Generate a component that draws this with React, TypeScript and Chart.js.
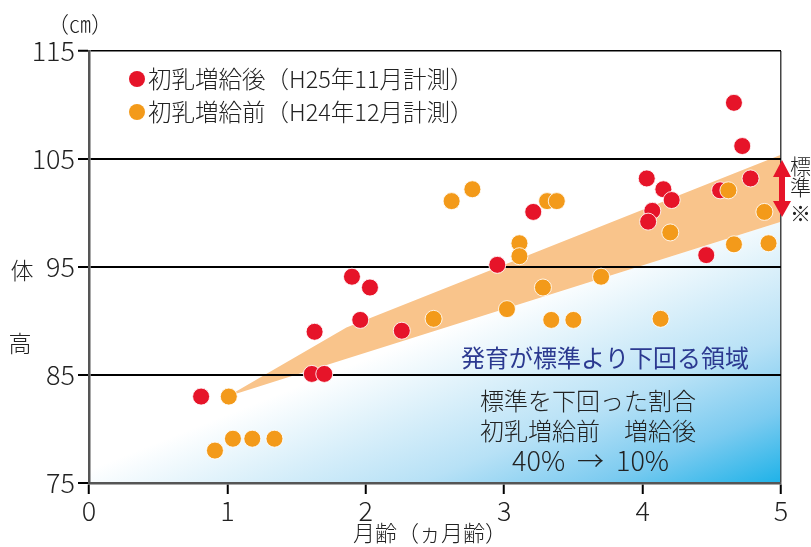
import React, { useEffect, useRef } from "react";
import { Chart, registerables } from "chart.js";

Chart.register(...registerables);

// 初乳増給後（H25年11月計測）
const afterAge = [0.81, 1.61, 1.70, 1.63, 1.96, 1.90, 2.03, 2.26, 2.95, 3.21, 4.03, 4.15, 4.21, 4.07, 4.04, 4.46, 4.56, 4.66, 4.72, 4.78];
const afterHeight = [83.0, 85.1, 85.1, 89.0, 90.1, 94.1, 93.1, 89.1, 95.2, 100.1, 103.2, 102.2, 101.2, 100.2, 99.2, 96.1, 102.1, 110.2, 106.2, 103.2];

// 初乳増給前（H24年12月計測）
const beforeAge = [1.01, 0.91, 1.04, 1.18, 1.34, 2.49, 2.62, 2.77, 3.11, 3.11, 3.02, 3.31, 3.38, 3.28, 3.34, 3.50, 3.70, 4.62, 4.88, 4.20, 4.66, 4.91, 4.13];
const beforeHeight = [83.0, 78.0, 79.1, 79.1, 79.1, 90.2, 101.1, 102.2, 97.2, 96.0, 91.1, 101.1, 101.1, 93.1, 90.1, 90.1, 94.1, 102.1, 100.1, 98.2, 97.1, 97.2, 90.2];

// 標準範囲（帯）
const bandAge = [1, 1.86, 5];
const bandUpper = [83, 89.4, 105.4];
const bandLower = [83, 86.5, 99.2];

// 発育が標準より下回る領域
const zoneAge = [0, 1, 5];
const zoneTop = [79, 83, 99.2];

const xTicks = [0, 1, 2, 3, 4, 5];
const yTicks = [75, 85, 95, 105, 115];

const legendLabels = ["初乳増給後（H25年11月計測）", "初乳増給前（H24年12月計測）"];
const xTitle = "月齢（ヵ月齢）";
const yTitleChars = ["体", "高"];
const unitLabel = "（㎝）";
const zoneLabel = "発育が標準より下回る領域";
const noteLines = ["標準を下回った割合", "初乳増給前　増給後"];
const ratioLine = "40%  →  10%";
const sideChars = ["標", "準", "※"];

const RED = "#E61429";
const ORANGE = "#F39A1A";
const FONT = '"Noto Sans CJK JP", "Noto Sans", sans-serif';
const W = "300";

const pts = (xs: number[], ys: number[]) => xs.map((x, i) => ({ x, y: ys[i] }));

const textPlugin = {
  id: "texts",
  afterDraw(chart: any) {
    const ctx = chart.ctx as CanvasRenderingContext2D;
    const area = chart.chartArea;
    ctx.save();
    ctx.textBaseline = "middle";

    // legend
    const rows = [79, 112];
    const cols = [RED, ORANGE];
    ctx.font = `${W} 23.5px ${FONT}`;
    rows.forEach((y, i) => {
      ctx.beginPath();
      ctx.arc(137, y, 8, 0, Math.PI * 2);
      ctx.fillStyle = cols[i];
      ctx.fill();
      ctx.fillStyle = "#222";
      ctx.textAlign = "left";
      ctx.fillText(legendLabels[i], 148, y);
    });

    // unit
    ctx.textAlign = "center";
    ctx.font = `${W} 22px ${FONT}`;
    ctx.fillStyle = "#222";
    ctx.fillText(unitLabel, 80, 24);

    // y title
    ctx.font = `${W} 23px ${FONT}`;
    ctx.fillText(yTitleChars[0], 22, 270);
    ctx.fillText(yTitleChars[1], 20, 343);

    // x title
    ctx.font = `${W} 22px ${FONT}`;
    ctx.fillText(xTitle, 430, 533);

    // zone texts
    ctx.font = `400 24px ${FONT}`;
    ctx.fillStyle = "#2B3990";
    ctx.fillText(zoneLabel, 605, 358);
    ctx.fillStyle = "#222";
    ctx.textAlign = "left";
    ctx.font = `${W} 24px ${FONT}`;
    ctx.fillText(noteLines[0], 480, 401);
    ctx.fillText(noteLines[1], 480, 431);
    ctx.font = `${W} 27px ${FONT}`;
    ctx.fillText(ratioLine, 512, 461);

    // side arrow
    const cx = area.right + 1;
    ctx.fillStyle = RED;
    ctx.beginPath();
    ctx.moveTo(cx, 160);
    ctx.lineTo(cx + 9, 177);
    ctx.lineTo(cx + 3, 177);
    ctx.lineTo(cx + 3, 201);
    ctx.lineTo(cx + 9, 201);
    ctx.lineTo(cx, 217);
    ctx.lineTo(cx - 9, 201);
    ctx.lineTo(cx - 3, 201);
    ctx.lineTo(cx - 3, 177);
    ctx.lineTo(cx - 9, 177);
    ctx.closePath();
    ctx.fill();

    // side text
    ctx.fillStyle = "#222";
    ctx.font = `${W} 21px ${FONT}`;
    ctx.textAlign = "left";
    ctx.fillText(sideChars[0], 790, 166);
    ctx.fillText(sideChars[1], 790, 187);
    ctx.fillText(sideChars[2], 790, 213);

    ctx.restore();
  },
};

export default function App() {
  const ref = useRef<HTMLCanvasElement | null>(null);

  useEffect(() => {
    if (!ref.current) return;
    const chart = new Chart(ref.current, {
      type: "scatter",
      data: {
        datasets: [
          {
            label: legendLabels[1],
            data: pts(beforeAge, beforeHeight),
            backgroundColor: ORANGE,
            borderColor: "rgba(255,255,255,0.85)",
            borderWidth: 1,
            pointRadius: 8.5,
            pointHoverRadius: 8.5,
          },
          {
            label: legendLabels[0],
            data: pts(afterAge, afterHeight),
            backgroundColor: RED,
            borderColor: "rgba(255,255,255,0.85)",
            borderWidth: 1,
            pointRadius: 8.5,
            pointHoverRadius: 8.5,
          },
          {
            label: "band",
            data: pts(bandAge, bandUpper),
            showLine: true,
            pointRadius: 0,
            borderWidth: 0,
            borderColor: "rgba(0,0,0,0)",
            backgroundColor: "#F9C48B",
            fill: { target: 3 },
          },
          {
            label: "bandLower",
            data: pts(bandAge, bandLower),
            showLine: true,
            pointRadius: 0,
            borderWidth: 0,
            borderColor: "rgba(0,0,0,0)",
            fill: false,
          },
          {
            label: "zone",
            data: pts(zoneAge, zoneTop),
            showLine: true,
            pointRadius: 0,
            borderWidth: 0,
            borderColor: "rgba(0,0,0,0)",
            fill: "start",
            backgroundColor: (c: any) => {
              const ch = c.chart;
              const a = ch.chartArea;
              if (!a) return "rgba(180,225,245,0.5)";
              const g = ch.ctx.createLinearGradient(a.right, a.bottom, a.right - 100, a.bottom - 250);
              g.addColorStop(0, "#1EB2E8");
              g.addColorStop(0.25, "#7CCBF0");
              g.addColorStop(0.5, "#B7E1F6");
              g.addColorStop(0.8, "#E2F3FB");
              g.addColorStop(1, "#FFFFFF");
              return g;
            },
          },
        ] as any,
      },
      options: {
        animation: false,
        responsive: false,
        maintainAspectRatio: false,
        events: [],
        layout: { padding: { left: 0, top: 51, right: 30, bottom: 0 }, autoPadding: false } as any,
        plugins: {
          legend: { display: false },
          tooltip: { enabled: false },
          filler: { drawTime: "beforeDraw" } as any,
        },
        scales: {
          x: {
            type: "linear",
            min: 0,
            max: 5,
            afterFit: (s: any) => {
              s.height = 64;
            },
            afterBuildTicks: (s: any) => {
              s.ticks = xTicks.map((v) => ({ value: v }));
            },
            ticks: {
              font: { family: FONT, size: 27, weight: W },
              color: "#222",
              padding: 1,
              maxRotation: 0,
              autoSkip: false,
            },
            grid: {
              color: (c: any) => (c.tick && c.tick.value === 5 ? "#444" : "rgba(0,0,0,0)"),
              lineWidth: 1.5,
              tickColor: "#000",
              tickLength: 11,
              tickWidth: 2,
            },
            border: { color: "#555", width: 2.5 },
          },
          y: {
            type: "linear",
            min: 75,
            max: 115,
            afterFit: (s: any) => {
              s.width = 89;
            },
            afterBuildTicks: (s: any) => {
              s.ticks = yTicks.map((v) => ({ value: v }));
            },
            ticks: {
              font: { family: FONT, size: 27, weight: W },
              color: "#222",
              padding: 3,
              autoSkip: false,
            },
            grid: {
              color: (c: any) => (c.tick && c.tick.value === 75 ? "rgba(0,0,0,0)" : "#000"),
              lineWidth: (c: any) => (c.tick && c.tick.value === 115 ? 1.5 : 2),
              tickColor: "#000",
              tickLength: 11,
              tickWidth: 2,
            },
            border: { color: "#555", width: 2.5 },
          },
        },
      },
      plugins: [textPlugin],
    } as any);
    return () => chart.destroy();
  }, []);

  return (
    <div style={{ position: "fixed", left: 0, top: 0, width: 811, height: 547, background: "#fff" }}>
      <canvas ref={ref} width={811} height={547} style={{ width: 811, height: 547, display: "block" }} />
    </div>
  );
}
